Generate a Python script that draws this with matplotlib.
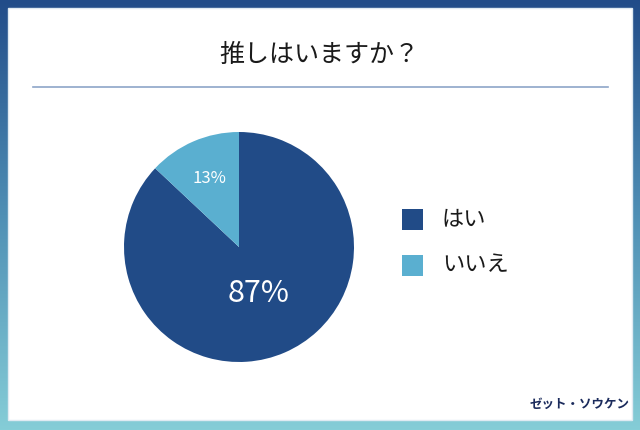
import numpy as np
import matplotlib
matplotlib.use('Agg')
import matplotlib.pyplot as plt
from matplotlib.colors import LinearSegmentedColormap
from matplotlib.patches import Rectangle

plt.rcParams['font.family'] = ['Noto Sans CJK JP', 'DejaVu Sans']

# データ
title = '推しはいますか？'
labels = ['はい', 'いいえ']
values = [87, 13]
colors = ['#214b87', '#5aafd0']

W, H = 640, 430
fig = plt.figure(figsize=(W / 100, H / 100), dpi=100)

# 背景のグラデーション枠
bg = fig.add_axes([0, 0, 1, 1])
cmap = LinearSegmentedColormap.from_list('frame', ['#214c89', '#4f8fb5', '#85cdd7'])
grad = np.linspace(0, 1, 256).reshape(-1, 1)
bg.imshow(grad, aspect='auto', cmap=cmap, extent=[0, W, H, 0])
bg.add_patch(Rectangle((8, 8), W - 16, 412, facecolor='white', edgecolor='#dfeaf2', lw=1))
bg.set_xlim(0, W)
bg.set_ylim(H, 0)
bg.axis('off')

# タイトルと区切り線
bg.text(319, 55, title, ha='center', va='center', fontsize=18, color='#1a1a1a')
bg.plot([33, 608], [87, 87], color='#8ea5c8', lw=1.2)

# 円グラフ
cx, cy, r = 239, 247, 115
ax = fig.add_axes([(cx - r) / W, (H - cy - r) / H, 2 * r / W, 2 * r / H])
wedges, texts, autotexts = ax.pie(values, colors=colors, startangle=90, counterclock=False,
                                  autopct='%d%%', wedgeprops=dict(linewidth=0))
ax.set_xlim(-1, 1)
ax.set_ylim(-1, 1)
ax.set_aspect('equal')
dists = [0.44, 0.65]
sizes = [22, 12]
for w, t, d, s in zip(wedges, autotexts, dists, sizes):
    ang = np.deg2rad((w.theta1 + w.theta2) / 2)
    t.set_position((d * np.cos(ang), d * np.sin(ang)))
    t.set_color('white')
    t.set_fontsize(s)

# 凡例
for i, (lab, c) in enumerate(zip(labels, colors)):
    y = 219 + i * 46
    bg.add_patch(Rectangle((402, y - 10), 21, 21, facecolor=c, edgecolor='none'))
    bg.text(442, y, lab, ha='left', va='center', fontsize=16, color='#1a1a1a')

# ロゴ
bg.text(580, 404, 'ゼット・ソウケン', ha='center', va='center', fontsize=9,
        fontweight='bold', fontstyle='italic', color='#1b2b5c')

fig.savefig('out.png', dpi=100)
